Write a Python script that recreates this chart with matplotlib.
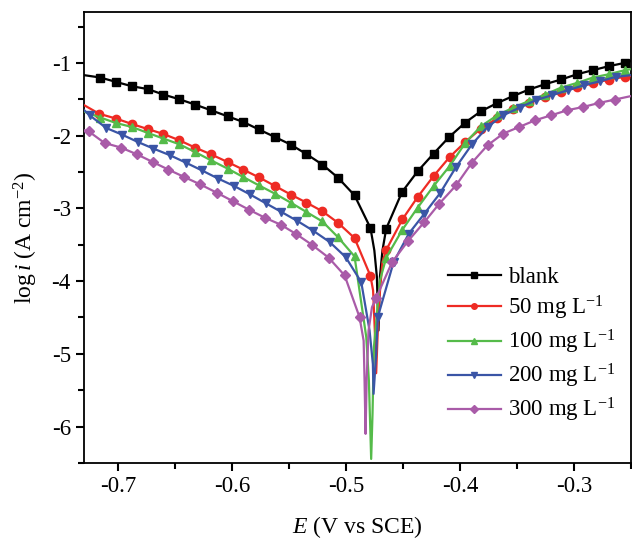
import numpy as np
import matplotlib
matplotlib.use("Agg")
import matplotlib.pyplot as plt
from matplotlib.ticker import MultipleLocator

plt.rcParams['font.family'] = ['Liberation Serif', 'DejaVu Serif']
plt.rcParams['mathtext.fontset'] = 'custom'
plt.rcParams['mathtext.rm'] = 'Liberation Serif'
plt.rcParams['mathtext.it'] = 'Liberation Serif:italic'

labels = ['blank', r'50 mg L$^{-1}$', r'100 mg L$^{-1}$', r'200 mg L$^{-1}$', r'300 mg L$^{-1}$']
colors = ['#000000', '#ee2b24', '#55bb4a', '#3a55a6', '#a95ba8']
markers = ['s', 'o', '^', 'v', 'D']

# ---- blank ----
blank_E = [-0.7158, -0.7020, -0.6880, -0.6740, -0.6604, -0.6463, -0.6326, -0.6186, -0.6040,
           -0.5903, -0.5766, -0.5626, -0.5486, -0.5348, -0.5208, -0.5072, -0.4926, -0.4786,
           -0.4648, -0.4509, -0.4372, -0.4232, -0.4095, -0.3954, -0.3817, -0.3672, -0.3532,
           -0.3394, -0.3254, -0.3112, -0.2972, -0.2834, -0.2694, -0.2554]
blank_logi = [-1.201, -1.261, -1.321, -1.360, -1.435, -1.500, -1.573, -1.651, -1.734,
              -1.812, -1.915, -2.018, -2.123, -2.254, -2.398, -2.577, -2.821, -3.271,
              -3.279, -2.775, -2.490, -2.247, -2.018, -1.820, -1.665, -1.551, -1.454,
              -1.366, -1.293, -1.228, -1.156, -1.100, -1.045, -1.000]
blank_line_E = [-0.7298, -0.4752, -0.4730, -0.4716, -0.4703, -0.4681, -0.2505]
blank_line_logi = [-1.169, -3.58, -3.94, -4.68, -3.94, -3.58, -0.977]

# ---- 50 mg/L ----
c50_E = [-0.7166, -0.7020, -0.6880, -0.6740, -0.6604, -0.6463, -0.6326, -0.6186, -0.6040,
         -0.5903, -0.5766, -0.5626, -0.5486, -0.5348, -0.5208, -0.5072, -0.4926, -0.4786,
         -0.4650, -0.4506, -0.4372, -0.4232, -0.4091, -0.3954, -0.3817, -0.3672, -0.3532,
         -0.3394, -0.3254, -0.3112, -0.2972, -0.2834, -0.2694, -0.2554]
c50_logi = [-1.700, -1.765, -1.840, -1.910, -1.977, -2.064, -2.164, -2.257, -2.363,
            -2.467, -2.573, -2.690, -2.810, -2.921, -3.040, -3.197, -3.408, -3.930,
            -3.578, -3.151, -2.844, -2.555, -2.294, -2.087, -1.903, -1.760, -1.640,
            -1.545, -1.470, -1.400, -1.335, -1.280, -1.230, -1.190]
c50_line_E = [-0.7298, -0.4763, -0.4748, -0.4736, -0.4722, -0.4707, -0.4681, -0.2505]
c50_line_logi = [-1.582, -4.13, -4.68, -5.266, -4.68, -4.22, -3.74, -1.180]

# ---- 100 mg/L ----
c100_E = [-0.7158, -0.7020, -0.6880, -0.6740, -0.6604, -0.6463, -0.6326, -0.6186, -0.6040,
          -0.5903, -0.5766, -0.5626, -0.5486, -0.5348, -0.5208, -0.5072, -0.4926,
          -0.4648, -0.4506, -0.4372, -0.4232, -0.4091, -0.3954, -0.3817, -0.3672, -0.3532,
          -0.3394, -0.3254, -0.3112, -0.2972, -0.2834, -0.2694, -0.2554]
c100_logi = [-1.751, -1.826, -1.881, -1.963, -2.040, -2.119, -2.225, -2.339, -2.453,
             -2.569, -2.683, -2.797, -2.921, -3.050, -3.180, -3.395, -3.660,
             -3.678, -3.293, -2.990, -2.693, -2.418, -2.101, -1.871, -1.720, -1.614,
             -1.523, -1.435, -1.339, -1.275, -1.201, -1.156, -1.100]
c100_line_E = [-0.7298, -0.4823, -0.4800, -0.4780, -0.4768, -0.4756, -0.4703, -0.2505]
c100_line_logi = [-1.670, -4.77, -5.37, -6.445, -5.82, -4.91, -3.99, -1.087]

# ---- 200 mg/L ----
c200_E = [-0.7251, -0.7105, -0.6968, -0.6828, -0.6691, -0.6545, -0.6407, -0.6267, -0.6122,
          -0.5982, -0.5845, -0.5705, -0.5567, -0.5427, -0.5291, -0.5144, -0.5004, -0.4867,
          -0.4722, -0.4584, -0.4450, -0.4313, -0.4176, -0.4035, -0.3895, -0.3759, -0.3621,
          -0.3475, -0.3335, -0.3195, -0.3053, -0.2913, -0.2772, -0.2635]
c200_logi = [-1.720, -1.895, -1.985, -2.087, -2.178, -2.270, -2.371, -2.477, -2.591,
             -2.693, -2.807, -2.930, -3.050, -3.174, -3.305, -3.463, -3.670, -4.014,
             -4.496, -3.743, -3.348, -3.073, -2.793, -2.431, -2.119, -1.881, -1.720,
             -1.614, -1.513, -1.445, -1.376, -1.307, -1.252, -1.193]
c200_line_E = [-0.7298, -0.4794, -0.4765, -0.4759, -0.4736, -0.2505]
c200_line_logi = [-1.651, -4.68, -5.14, -5.550, -5.00, -1.169]

# ---- 300 mg/L ----
c300_E = [-0.7260, -0.7120, -0.6976, -0.6836, -0.6696, -0.6560, -0.6420, -0.6282, -0.6136,
          -0.5996, -0.5853, -0.5713, -0.5573, -0.5436, -0.5296, -0.5153, -0.5013, -0.4882,
          -0.4736, -0.4596, -0.4459, -0.4313, -0.4182, -0.4035, -0.3895, -0.3759, -0.3621,
          -0.3481, -0.3341, -0.3199, -0.3059, -0.2919, -0.2781, -0.2641]
c300_logi = [-1.940, -2.101, -2.164, -2.257, -2.363, -2.467, -2.569, -2.669, -2.784,
             -2.899, -3.018, -3.128, -3.225, -3.355, -3.505, -3.678, -3.922, -4.496,
             -4.229, -3.739, -3.454, -3.188, -2.935, -2.683, -2.371, -2.133, -1.972,
             -1.881, -1.789, -1.720, -1.651, -1.606, -1.551, -1.504]
c300_line_E = [-0.7298, -0.4846, -0.4838, -0.4829, -0.4820, -0.4803, -0.4773, -0.2505]
c300_line_logi = [-1.926, -4.82, -5.37, -6.100, -5.37, -4.68, -4.36, -1.458]

series = [
    (blank_E, blank_logi, blank_line_E, blank_line_logi),
    (c50_E, c50_logi, c50_line_E, c50_line_logi),
    (c100_E, c100_logi, c100_line_E, c100_line_logi),
    (c200_E, c200_logi, c200_line_E, c200_line_logi),
    (c300_E, c300_logi, c300_line_E, c300_line_logi),
]

fig = plt.figure(figsize=(6.32, 5.44), dpi=100)
ax = fig.add_axes([0.1329, 0.149, 0.8655, 0.829])

for (mE, mL, lE, lL), lab, col, mk in zip(series, labels, colors, markers):
    E = np.array(list(mE) + list(lE))
    L = np.array(list(mL) + list(lL))
    is_mark = np.array([True] * len(mE) + [False] * len(lE))
    order = np.argsort(E, kind='stable')
    E, L, is_mark = E[order], L[order], is_mark[order]
    ax.plot(E, L, color=col, lw=1.6, marker=mk,
            markersize=6 if mk != 'D' else 5, markevery=list(np.where(is_mark)[0]),
            label=lab, zorder=3)

ax.set_xlim(-0.73, -0.25)
ax.set_ylim(-6.5, -0.3)
ax.xaxis.set_minor_locator(MultipleLocator(0.05))
ax.yaxis.set_minor_locator(MultipleLocator(0.5))
ax.set_xticks([-0.7, -0.6, -0.5, -0.4, -0.3])
ax.set_xticklabels(['-0.7', '-0.6', '-0.5', '-0.4', '-0.3'])
ax.set_yticks([-6, -5, -4, -3, -2, -1])
ax.set_yticklabels(['-6', '-5', '-4', '-3', '-2', '-1'])
ax.tick_params(which='both', direction='out', top=False, right=False, width=1.5,
               labelsize=16.5)
ax.tick_params(which='major', length=6)
ax.tick_params(which='minor', length=4)
for s in ax.spines.values():
    s.set_linewidth(1.3)

ax.set_xlabel(r'$\mathit{E}$ (V vs SCE)', fontsize=17, labelpad=12)
ax.set_ylabel(r'log$\,\mathit{i}$ (A cm$^{-2}$)', fontsize=17, labelpad=8)

leg = ax.legend(loc='lower right', bbox_to_anchor=(1.0, 0.05), frameon=False,
                fontsize=16.5, handlelength=2.3, handletextpad=0.3, labelspacing=0.26,
                borderaxespad=0.3)
for h in leg.legend_handles:
    h.set_markersize(4)

fig.savefig('out.png', dpi=100)
